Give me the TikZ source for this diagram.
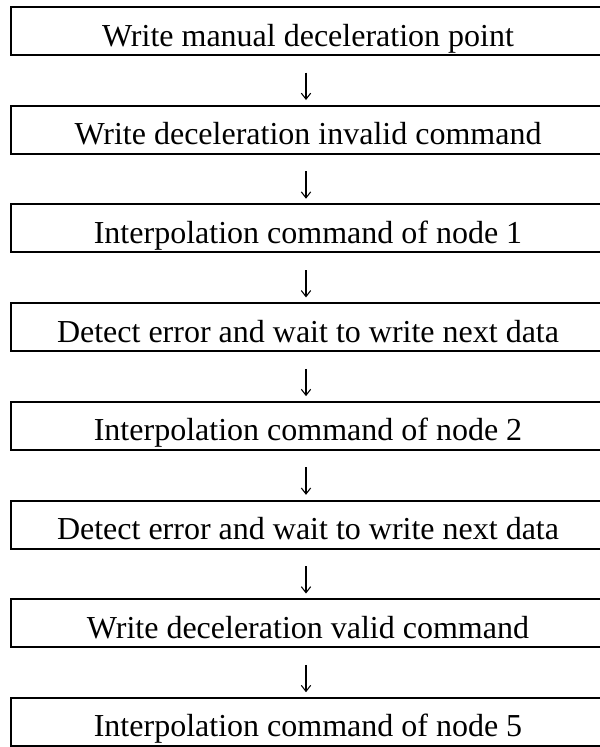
\documentclass[tikz,border=0pt]{standalone}
\usepackage{fontspec}
\setmainfont{Liberation Serif}
\usetikzlibrary{arrows.meta}
\tikzset{
  stepbox/.style={draw=black, line width=1.5pt, rectangle, minimum width=445.5pt,
    minimum height=36pt, inner sep=0pt, text height=22.5pt, text depth=0pt,
    font=\fontsize{24pt}{28pt}\selectfont},
  flowarrow/.style={line width=0.8pt, -{Straight Barb[length=4.5pt,width=7pt,line width=0.8pt]},
    shorten <=12.5pt, shorten >=3.5pt}
}
\begin{document}
\begin{tikzpicture}[x=0.75pt,y=-0.75pt]
\useasboundingbox (0,0) rectangle (600,747);
\clip (0,0) rectangle (600,747);
\node[stepbox] (b1) at (308,31) {Write manual deceleration point};
\node[stepbox] (b2) at (308,129.7) {Write deceleration invalid command};
\node[stepbox] (b3) at (308,228.4) {Interpolation command of node 1};
\node[stepbox] (b4) at (308,327.1) {Detect error and wait to write next data};
\node[stepbox] (b5) at (308,425.8) {Interpolation command of node 2};
\node[stepbox] (b6) at (308,524.5) {Detect error and wait to write next data};
\node[stepbox] (b7) at (308,623.2) {Write deceleration valid command};
\node[stepbox] (b8) at (308,721.9) {Interpolation command of node 5};
\foreach \a/\b in {b1/b2,b2/b3,b3/b4,b4/b5,b5/b6,b6/b7,b7/b8}
  \draw[flowarrow] ([xshift=-1.5pt]\a.south) -- ([xshift=-1.5pt]\b.north);
\end{tikzpicture}
\end{document}
